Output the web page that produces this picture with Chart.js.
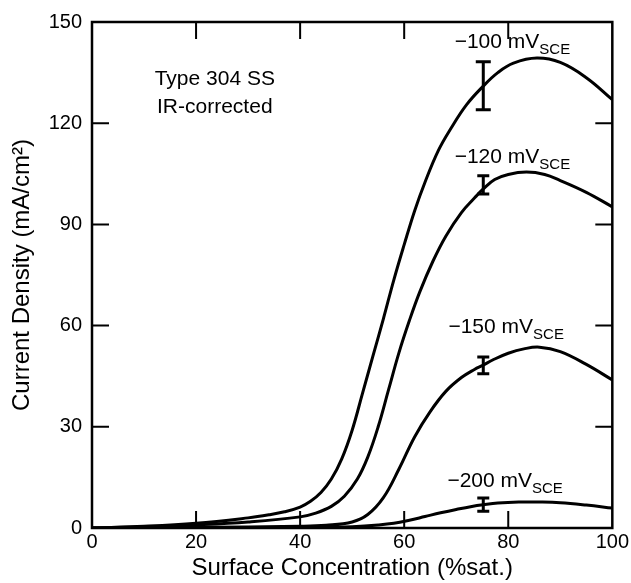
<!DOCTYPE html>
<html>
<head>
<meta charset="utf-8">
<script src="https://cdn.jsdelivr.net/npm/chart.js@4.4.0/dist/chart.umd.min.js"></script>
<style>
  html, body { margin: 0; padding: 0; background: #fff; }
  #wrap { width: 631px; height: 583px; }
</style>
</head>
<body>
<div id="wrap"><canvas id="grafico" width="631" height="583"></canvas></div>
<script>
// surface concentration (%sat.) vs current density (mA/cm2)
const x_100 = [0, 10, 20, 30, 34, 37, 40, 42, 44, 46, 48, 50, 52, 54, 56, 58, 60, 62, 64, 66.6, 69, 72, 75.2, 78, 81, 85.5, 90, 95, 100];
const y_100 = [0, 0.5, 1.4, 3.0, 3.9, 4.8, 6.2, 7.9, 10.5, 14.5, 20.5, 29, 40, 51, 62, 73.5, 84, 94, 102.5, 112, 118.5, 125.5, 131, 135, 137.8, 139.3, 138, 133.5, 127];

const x_120 = [0, 10, 20, 30, 40, 43, 46, 48.5, 51, 53, 55, 57, 59, 61, 63, 65.5, 68, 71, 73.5, 75.2, 77.4, 80, 83.5, 87, 90, 95, 100];
const y_120 = [0, 0.3, 0.9, 1.8, 3.3, 4.4, 6.4, 9.4, 14.5, 21, 30, 41, 52, 61.5, 70, 79, 86.5, 93.5, 97.8, 100.5, 103.3, 104.8, 105.5, 104.8, 103, 99.5, 95.2];

const x_150 = [0, 20, 40, 45, 50, 53, 56, 59, 62, 65, 68, 71, 73.5, 75.2, 77, 80, 83, 86, 90, 95, 100];
const y_150 = [0, 0.2, 0.5, 0.8, 1.8, 4, 9, 17.5, 27, 34.5, 40.5, 44.6, 47, 48.3, 49.8, 51.8, 53.1, 53.6, 52.3, 48.5, 43.9];

const x_200 = [0, 20, 40, 45, 50, 55, 58, 61, 64, 67, 70, 73, 75.2, 78, 82, 86, 90, 95, 100];
const y_200 = [0, 0, 0.1, 0.2, 0.4, 0.9, 1.4, 2.3, 3.4, 4.5, 5.5, 6.4, 6.9, 7.4, 7.7, 7.7, 7.5, 6.8, 5.9];

// error bars at 75 %sat.
const erro_x = [75.2, 75.2, 75.2, 75.2];
const erro_min = [124, 99, 45.7, 5.0];
const erro_max = [138.2, 104.4, 50.7, 8.9];

const potenciais = ['\u2212100 mV', '\u2212120 mV', '\u2212150 mV', '\u2212200 mV'];

const FONTE = '"Liberation Sans", Arial, Helvetica, sans-serif';

const ponto = (xs, ys) => xs.map((v, i) => ({ x: v, y: ys[i] }));

const serie = (xs, ys) => ({
  data: ponto(xs, ys),
  borderColor: '#000',
  borderWidth: 3,
  pointRadius: 0,
  showLine: true,
  fill: false,
  tension: 0.4
});

// frame, inward ticks, error bars and the text notes
const extras = {
  id: 'extras',
  afterDraw(chart) {
    const { ctx, chartArea: a, scales: { x, y } } = chart;
    ctx.save();
    ctx.strokeStyle = '#000';
    ctx.lineCap = 'butt';
    ctx.lineWidth = 2.5;
    ctx.strokeRect(a.left, a.top, a.right - a.left, a.bottom - a.top);

    ctx.lineWidth = 2;
    ctx.beginPath();
    x.ticks.forEach(t => {
      if (t.value <= x.min || t.value >= x.max) return;
      const px = x.getPixelForValue(t.value);
      ctx.moveTo(px, a.bottom); ctx.lineTo(px, a.bottom - 17);
      ctx.moveTo(px, a.top); ctx.lineTo(px, a.top + 17);
    });
    y.ticks.forEach(t => {
      if (t.value <= y.min || t.value >= y.max) return;
      const py = y.getPixelForValue(t.value);
      ctx.moveTo(a.left, py); ctx.lineTo(a.left + 17, py);
      ctx.moveTo(a.right, py); ctx.lineTo(a.right - 17, py);
    });
    ctx.stroke();

    // error bars
    const capas = [7.5, 6, 6, 6];
    ctx.lineWidth = 3;
    ctx.beginPath();
    erro_x.forEach((ex, i) => {
      const px = x.getPixelForValue(ex);
      const p1 = y.getPixelForValue(erro_min[i]);
      const p2 = y.getPixelForValue(erro_max[i]);
      ctx.moveTo(px, p1); ctx.lineTo(px, p2);
      ctx.moveTo(px - capas[i], p1); ctx.lineTo(px + capas[i], p1);
      ctx.moveTo(px - capas[i], p2); ctx.lineTo(px + capas[i], p2);
    });
    ctx.stroke();

    ctx.fillStyle = '#000';
    ctx.textBaseline = 'alphabetic';
    // sample note
    ctx.font = '21px ' + FONTE;
    ctx.textAlign = 'center';
    ctx.fillText('Type 304 SS', x.getPixelForValue(23.6), y.getPixelForValue(131.3));
    ctx.fillText('IR-corrected', x.getPixelForValue(23.6), y.getPixelForValue(123));

    // potential labels with SCE subscript
    const pos = [[69.7, 142.3], [69.7, 108.2], [68.5, 57.8], [68.3, 12.2]];
    ctx.textAlign = 'left';
    potenciais.forEach((txt, i) => {
      const px = x.getPixelForValue(pos[i][0]);
      const py = y.getPixelForValue(pos[i][1]);
      ctx.font = '21px ' + FONTE;
      ctx.fillText(txt, px, py);
      const w = ctx.measureText(txt).width;
      ctx.font = '15px ' + FONTE;
      ctx.fillText('SCE', px + w, py + 6);
    });
    ctx.restore();
  }
};

new Chart(document.getElementById('grafico'), {
  type: 'scatter',
  data: {
    datasets: [
      serie(x_100, y_100),
      serie(x_120, y_120),
      serie(x_150, y_150),
      serie(x_200, y_200)
    ]
  },
  options: {
    responsive: false,
    animation: false,
    layout: { padding: { top: 22, right: 18, left: 0, bottom: 0 } },
    plugins: { legend: { display: false }, tooltip: { enabled: false } },
    scales: {
      x: {
        type: 'linear',
        min: 0, max: 100,
        ticks: { stepSize: 20, color: '#000', padding: 2, font: { family: FONTE, size: 20 } },
        grid: { display: false, drawTicks: false },
        border: { display: false },
        title: { display: true, text: 'Surface Concentration (%sat.)', color: '#000', padding: 0, font: { family: FONTE, size: 24 } },
        afterFit: s => { s.height = 55; }
      },
      y: {
        type: 'linear',
        min: 0, max: 150,
        ticks: { stepSize: 30, color: '#000', padding: 10, font: { family: FONTE, size: 20 } },
        grid: { display: false, drawTicks: false },
        border: { display: false },
        title: { display: true, text: 'Current Density (mA/cm\u00b2)', color: '#000', padding: { top: 8 }, font: { family: FONTE, size: 24 } },
        afterFit: s => { s.width = 92; }
      }
    }
  },
  plugins: [extras]
});
</script>
</body>
</html>
